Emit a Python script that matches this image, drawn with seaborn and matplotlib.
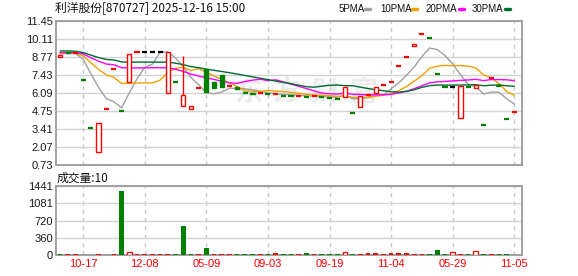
import numpy as np
import pandas as pd
import matplotlib
matplotlib.use("Agg")
import matplotlib.pyplot as plt
import seaborn as sns
from matplotlib.lines import Line2D

# ---------------- data ----------------
TITLE = "利洋股份[870727] 2025-12-16 15:00"
VOL_LABEL = "成交量:10"
PREV_CLOSE = 9.13  # close before the first visible bar

opens = [8.75, 9.12, 9.10, 7.08, 3.45, 1.70, 4.93, 7.91, 4.78, 6.93,
         9.15, 9.15, 9.15, 9.15, 6.09, 6.88, 5.15, 4.93, 6.43, 7.91,
         6.90, 7.40, 6.61, 6.53, 6.19, 6.06, 6.06, 5.98, 6.00, 5.90,
         5.84, 5.86, 5.80, 5.83, 5.76, 5.72, 5.68, 5.82, 4.60, 5.03,
         5.94, 6.07, 6.66, 6.93, 8.08, 8.75, 9.57, 10.50, 10.16, 7.48,
         6.53, 6.53, 4.20, 6.55, 6.45, 3.71, 7.18, 6.63, 4.13, 4.65]
highs = [8.93, 9.12, 9.10, 7.08, 3.45, 3.85, 4.93, 7.91, 4.78, 8.99,
         9.15, 9.15, 9.15, 9.15, 9.15, 6.88, 8.83, 5.15, 6.43, 7.91,
         6.90, 7.40, 6.61, 6.53, 6.19, 6.06, 6.06, 5.98, 6.00, 5.90,
         5.84, 5.86, 5.80, 5.83, 5.76, 5.72, 5.68, 6.56, 4.60, 5.85,
         6.04, 6.56, 6.66, 6.93, 8.08, 8.75, 9.72, 10.50, 10.16, 7.48,
         6.53, 6.53, 6.61, 6.55, 6.70, 3.71, 7.18, 6.63, 4.13, 4.65]
lows = [8.75, 9.08, 9.10, 7.08, 3.45, 1.70, 4.93, 7.91, 4.78, 6.93,
        9.15, 9.15, 9.15, 9.15, 6.09, 6.88, 5.15, 4.93, 6.43, 6.19,
        6.48, 6.53, 6.61, 6.36, 6.09, 6.02, 6.06, 5.98, 6.00, 5.90,
        5.84, 5.86, 5.80, 5.83, 5.76, 5.72, 5.68, 5.82, 4.60, 5.03,
        5.94, 6.07, 6.66, 6.93, 8.08, 8.75, 9.57, 10.50, 10.16, 7.48,
        6.53, 6.53, 4.20, 6.55, 6.45, 3.71, 7.18, 6.63, 4.13, 4.65]
closes = [8.93, 9.08, 9.10, 7.08, 3.45, 3.85, 4.93, 7.91, 4.78, 8.99,
          9.15, 9.15, 9.15, 9.15, 9.15, 6.88, 5.92, 5.15, 6.43, 6.19,
          6.48, 6.53, 6.61, 6.36, 6.09, 6.02, 6.06, 5.98, 6.00, 5.90,
          5.84, 5.86, 5.80, 5.83, 5.76, 5.72, 5.68, 6.56, 4.60, 5.85,
          6.04, 6.56, 6.66, 6.93, 8.08, 8.75, 9.72, 10.50, 10.16, 7.48,
          6.53, 6.53, 6.61, 6.55, 6.70, 3.71, 7.18, 6.63, 4.13, 4.65]
volumes = [20, 20, 20, 1, 1, 20, 1, 20, 1337, 62,
           20, 20, 20, 20, 20, 20, 606, 20, 20, 150,
           20, 20, 20, 20, 20, 20, 20, 20, 40, 20,
           20, 20, 40, 20, 20, 20, 20, 55, 20, 20,
           40, 40, 20, 35, 35, 35, 20, 20, 20, 100,
           20, 55, 20, 20, 90, 20, 20, 20, 20, 10]

ma5 = [9.02, 9.03, 9.03, 8.62, 7.53, 6.51, 5.68, 5.44, 4.98, 6.09,
       7.15, 8.00, 8.24, 9.12, 9.15, 8.70, 8.05, 7.25, 6.71, 6.11,
       6.03, 6.16, 6.45, 6.43, 6.41, 6.32, 6.23, 6.10, 6.03, 5.99,
       5.96, 5.92, 5.88, 5.85, 5.82, 5.79, 5.76, 5.91, 5.66, 5.68,
       5.75, 5.92, 5.94, 6.41, 6.85, 7.40, 8.03, 8.80, 9.44, 9.32,
       8.88, 8.24, 7.46, 6.74, 6.58, 6.02, 6.15, 6.15, 5.67, 5.26]
ma10 = [9.05, 9.07, 9.06, 8.85, 8.35, 7.85, 7.45, 7.25, 6.80, 6.81,
        6.83, 6.84, 6.84, 7.05, 7.62, 7.92, 8.02, 7.75, 7.91, 7.63,
        7.37, 7.10, 6.85, 6.57, 6.26, 6.18, 6.19, 6.28, 6.23, 6.20,
        6.14, 6.07, 5.99, 5.94, 5.91, 5.88, 5.84, 5.90, 5.76, 5.75,
        5.77, 5.84, 5.93, 6.04, 6.27, 6.57, 6.98, 7.37, 7.93, 8.09,
        8.14, 8.13, 8.13, 8.09, 7.95, 7.45, 7.20, 6.81, 6.21, 5.92]
ma20 = [9.10, 9.10, 9.10, 9.00, 8.72, 8.46, 8.25, 8.19, 7.97, 7.96,
        7.96, 7.96, 7.97, 7.97, 7.97, 7.86, 7.70, 7.50, 7.36, 7.22,
        7.10, 6.97, 6.85, 6.81, 6.94, 7.05, 7.11, 7.01, 7.07, 6.92,
        6.75, 6.59, 6.42, 6.25, 6.08, 6.03, 6.01, 6.09, 5.99, 5.98,
        5.95, 5.96, 5.96, 5.99, 6.09, 6.22, 6.41, 6.63, 6.84, 6.92,
        6.95, 6.99, 7.03, 7.06, 7.11, 7.01, 7.09, 7.09, 7.07, 7.01]
ma30 = [9.22, 9.22, 9.20, 9.10, 8.91, 8.73, 8.59, 8.55, 8.40, 8.39,
        8.39, 8.39, 8.39, 8.39, 8.39, 8.31, 8.20, 8.06, 7.97, 7.87,
        7.78, 7.69, 7.60, 7.50, 7.40, 7.29, 7.19, 7.08, 6.98, 6.88,
        6.78, 6.67, 6.56, 6.52, 6.60, 6.66, 6.68, 6.64, 6.63, 6.53,
        6.42, 6.34, 6.26, 6.18, 6.15, 6.21, 6.33, 6.51, 6.64, 6.68,
        6.68, 6.68, 6.68, 6.69, 6.71, 6.63, 6.67, 6.69, 6.63, 6.59]

ma_names = ["5PMA", "10PMA", "20PMA", "30PMA"]
ma_colors = ["#A0A0A0", "#F0A000", "#FF00FF", "#006B2E"]

xtick_idx = [3, 11, 19, 27, 35, 43, 51, 59]
xtick_labels = ["10-17", "12-08", "05-09", "09-03", "09-19", "11-04", "05-29", "11-05"]
price_ticks = [0.73, 2.07, 3.41, 4.75, 6.09, 7.43, 8.77, 10.11, 11.45]
vol_ticks = [0, 360, 720, 1081, 1441]
WATERMARK = "东方财富"

# ---------------- styling ----------------
sns.set_theme(style="white")
plt.rcParams['font.family'] = ['Liberation Sans', 'Noto Sans CJK SC', 'DejaVu Sans']
plt.rcParams['axes.unicode_minus'] = False

RED = "#FF0000"
GREEN = "#008000"
BLACK = "#000000"
GRID = "#D2D2D2"
SPINE = "#9A9A9A"

W, H = 578, 276
fig = plt.figure(figsize=(W / 100, H / 100), dpi=100)
fig.patch.set_facecolor("white")


def rect(l, t, r, b):
    return [l / W, 1 - b / H, (r - l) / W, (b - t) / H]


ax = fig.add_axes(rect(56, 21, 522, 165))
axv = fig.add_axes(rect(56, 186, 522, 255))

n = len(closes)
idx = np.arange(n)
o = np.array(opens)
c = np.array(closes)
hi = np.array(highs)
lo = np.array(lows)
v = np.array(volumes)

# candle colours
cc = []
prev = PREV_CLOSE
for oi, ci in zip(o, c):
    if ci > oi:
        cc.append(RED)
    elif ci < oi:
        cc.append(GREEN)
    else:
        cc.append(RED if ci > prev else (GREEN if ci < prev else BLACK))
    prev = ci

# faint watermark
for ch, px in zip(WATERMARK, [248, 286, 325, 364]):
    ax.text((px - 56) / 466, (165 - 93) / 144, ch, transform=ax.transAxes,
            fontsize=20, fontweight="bold", color="#EBEBEB",
            ha="center", va="center", zorder=0.5,
            family=['Noto Sans CJK SC'])

# moving averages with seaborn
ma_df = pd.DataFrame({"idx": np.tile(idx, 4),
                      "value": np.concatenate([ma5, ma10, ma20, ma30]),
                      "ma": np.repeat(ma_names, n)})
sns.lineplot(data=ma_df, x="idx", y="value", hue="ma", hue_order=ma_names,
             palette=ma_colors, linewidth=1.0, legend=False, ax=ax, zorder=2)

# wicks
ax.vlines(idx, lo, hi, colors=cc, linewidth=1.0, zorder=3)
# bodies
body_w = 0.56
for i in range(n):
    if o[i] != c[i]:
        bottom = min(o[i], c[i])
        height = abs(c[i] - o[i])
        face = "white" if c[i] > o[i] else cc[i]
        ax.bar(idx[i], height, bottom=bottom, width=body_w, facecolor=face,
               edgecolor=cc[i], linewidth=1.0, zorder=4)
    else:
        ax.hlines(c[i], idx[i] - 0.33, idx[i] + 0.33, colors=cc[i],
                  linewidth=1.6, zorder=4)

# volume bars
prev = PREV_CLOSE
for i in range(n):
    up = c[i] >= prev
    col = RED if up else GREEN
    hollow = up and c[i] >= o[i] and v[i] > 45
    axv.bar(idx[i], v[i], width=0.62, facecolor="white" if hollow else col,
            edgecolor=col, linewidth=0.9 if hollow else 0, zorder=3)
    prev = c[i]

# axes formatting
for a in (ax, axv):
    a.set_xlim(-0.52, 60.0)
    a.set_xticks(xtick_idx)
    a.grid(axis="x", color="#C8C8C8", linestyle=(0, (3, 3)), linewidth=1.0)
    a.grid(axis="y", color=GRID, linestyle="-", linewidth=1.0)
    a.set_axisbelow(True)
    a.tick_params(length=0, pad=2)
    a.set_xlabel("")
    a.set_ylabel("")
    a.set_facecolor("white")
    for s in a.spines.values():
        s.set_color(SPINE)
        s.set_linewidth(1.3)
        s.set_visible(True)

ax.set_ylim(price_ticks[0], price_ticks[-1])
ax.set_yticks(price_ticks)
ax.set_yticklabels([f"{t:.2f}" for t in price_ticks], fontsize=8, color="#1A1A1A")
ax.set_xticklabels([])

axv.set_ylim(vol_ticks[0], vol_ticks[-1])
axv.set_yticks(vol_ticks)
axv.set_yticklabels([str(t) for t in vol_ticks], fontsize=8, color="#1A1A1A")
axv.set_xticklabels(xtick_labels, fontsize=8, color=RED)
axv.tick_params(axis="x", pad=3)

# texts
fig.text(55 / W, 1 - 9 / H, TITLE, fontsize=8.5, color="#111111", va="center",
         ha="left", family=['Noto Sans CJK SC', 'DejaVu Sans'])
fig.text(57 / W, 1 - 178 / H, VOL_LABEL, fontsize=8.5, color="#111111",
         va="center", ha="left", family=['Noto Sans CJK SC', 'DejaVu Sans'])

# legend (top right)
leg_text_x = [339, 380, 426, 472]
leg_mark_x = [365, 412, 459, 505]
for name, col, tx, mx in zip(ma_names, ma_colors, leg_text_x, leg_mark_x):
    fig.text(tx / W, 1 - 9 / H, name, fontsize=7, color="#111111",
             va="center", ha="left")
    fig.add_artist(Line2D([mx / W, (mx + 5) / W], [1 - 9 / H, 1 - 9 / H],
                          transform=fig.transFigure, color=col, linewidth=2.5))

fig.savefig("out.png", dpi=100, facecolor="white")
